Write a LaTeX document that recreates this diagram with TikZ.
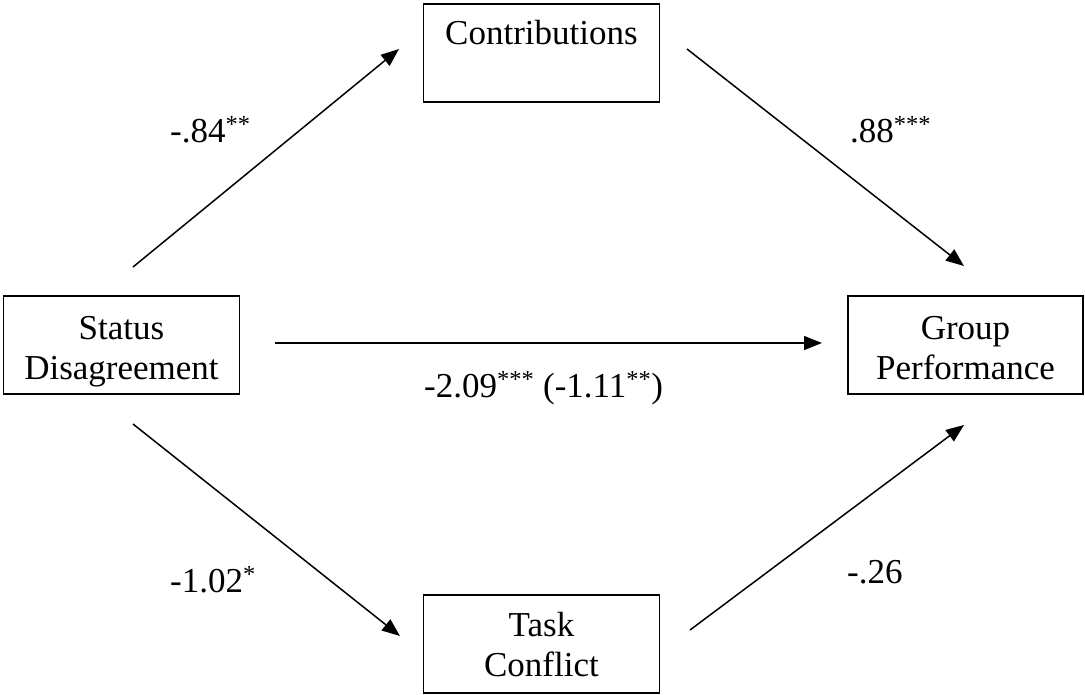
\documentclass[tikz,border=0pt]{standalone}
\usepackage{fontspec}
\setmainfont{Liberation Serif}
\usetikzlibrary{arrows.meta}
\begin{document}
\begin{tikzpicture}[x=1pt,y=-1pt,
  box/.style={draw, line width=1.8pt, inner sep=0pt, minimum width=236pt, minimum height=98pt,
    font=\fontsize{35}{40}\selectfont},
  lbl/.style={anchor=base west, inner sep=0pt, font=\fontsize{35}{40}\selectfont},
  conn/.style={line width=1.5pt, -{Triangle[length=18pt,width=14pt]}}]
\useasboundingbox (0,0) rectangle (1085,694);
\newcommand{\twoline}[2]{\begin{tabular}[t]{@{}c@{}}#1\\#2\end{tabular}}
% boxes (first baseline = centre + (text height - text depth)/2)
\node[box, text height=28pt, text depth=40pt] (sd) at (121.5,345) {\twoline{Status}{Disagreement}};
\node[box, minimum width=235pt, text height=28pt, text depth=40pt] (gp) at (965.5,345) {\twoline{Group}{Performance}};
\node[box, text height=26pt, text depth=42pt] (co) at (541.5,52.75) {\twoline{Contributions}{}};
\node[box, text height=27pt, text depth=41pt] (tc) at (541.5,643.75) {\twoline{Task}{Conflict}};
% connector end points
\coordinate (a1s) at (133,267);  \coordinate (a1e) at (399,49);
\coordinate (a2s) at (687,49);   \coordinate (a2e) at (964,266);
\coordinate (a3s) at (275,343);  \coordinate (a3e) at (822,343);
\coordinate (a4s) at (133,424);  \coordinate (a4e) at (400,636);
\coordinate (a5s) at (690,630);  \coordinate (a5e) at (964,425);
\draw[conn] (a1s) -- (a1e);
\draw[conn] (a2s) -- (a2e);
\draw[conn] (a3s) -- (a3e);
\draw[conn] (a4s) -- (a4e);
\draw[conn] (a5s) -- (a5e);
% labels
\node[lbl] (l1) at (170,142) {-.84\textsuperscript{**}};
\node[lbl] (l2) at (850,142) {.88\textsuperscript{***}};
\node[lbl] (l3) at (424,397) {-2.09\textsuperscript{***} (-1.11\textsuperscript{**})};
\node[lbl] (l4) at (170,592) {-1.02\textsuperscript{*}};
\node[lbl] (l5) at (847,583) {-.26};
\end{tikzpicture}
\end{document}
